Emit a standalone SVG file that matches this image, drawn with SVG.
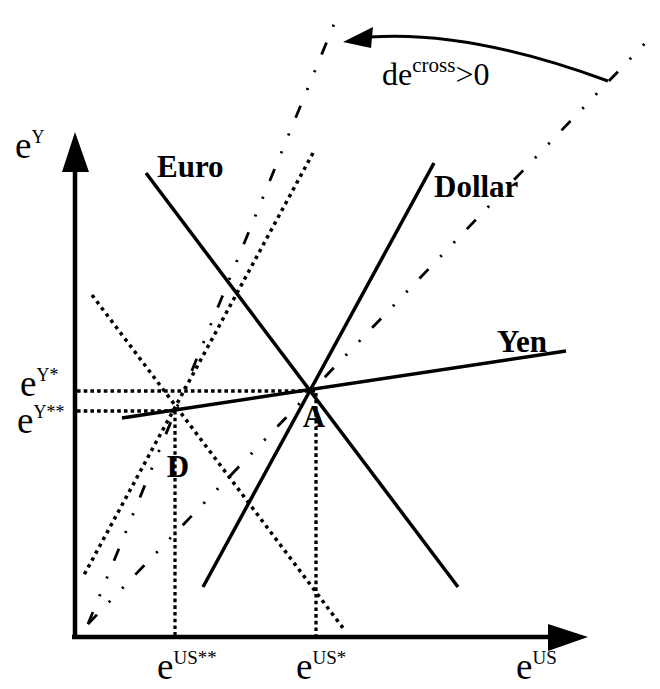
<svg xmlns="http://www.w3.org/2000/svg" width="660" height="689" viewBox="0 0 660 689">
<style>
.ax{stroke:#000;stroke-width:4.5;fill:none}
.sol{stroke:#000;stroke-width:3.5;fill:none;stroke-linecap:butt}
.dot{stroke:#000;stroke-width:3.5;fill:none;stroke-dasharray:3.5 4.3}
.dotg{stroke:#000;stroke-width:3.3;fill:none;stroke-dasharray:3.6 3.1}
.dd{stroke:#000;stroke-width:2.8;fill:none;stroke-dasharray:13 17 2.2 17 2.2 17}
.t{font-family:"Liberation Serif","Times New Roman",serif;fill:#000}
.b{font-family:"Liberation Serif","Times New Roman",serif;font-weight:bold;font-size:31px;fill:#000}
</style>
<rect width="660" height="689" fill="#fff"/>
<g id="connectors">
<line class="ax" x1="75" y1="639" x2="75" y2="170"/>
<polygon points="75,132 62,172 89,172" fill="#000"/>
<line class="ax" x1="72" y1="637" x2="550" y2="637"/>
<polygon points="588,637 548,624 548,651" fill="#000"/>
<line class="dd" x1="88" y1="624" x2="339" y2="12"/>
<line class="dd" x1="88" y1="624" x2="654" y2="34"/>
<line class="dot" x1="92" y1="295" x2="343" y2="628"/>
<line class="dot" x1="313" y1="153" x2="84" y2="575"/>
<line class="dotg" x1="77" y1="391" x2="316" y2="391"/>
<line class="dotg" x1="77" y1="411" x2="176" y2="411"/>
<line class="dotg" x1="175" y1="411" x2="175" y2="635"/>
<line class="dotg" x1="316" y1="393" x2="316" y2="635"/>
<line class="sol" x1="146" y1="173" x2="458" y2="587"/>
<line class="sol" x1="203" y1="587" x2="434" y2="163"/>
<line class="sol" x1="122" y1="418" x2="566" y2="351"/>
<path d="M608,81 Q470,30 370,37" stroke="#000" stroke-width="3" fill="none"/>
<polygon points="343,42 373,27 371,48" fill="#000"/>
</g>
<g id="labels">
<text class="b" x="157" y="177">Euro</text>
<text class="b" x="434" y="197">Dollar</text>
<text class="b" x="497" y="352">Yen</text>
<text class="b" x="314" y="427" text-anchor="middle">A</text>
<text class="b" x="178" y="477" text-anchor="middle">D</text>
<text class="t" x="382" y="85" font-size="32">de<tspan font-size="21" dy="-13">cross</tspan><tspan dy="13">&gt;0</tspan></text>
<text class="t" x="15" y="158" font-size="37">e<tspan font-size="18" dy="-15">Y</tspan></text>
<text class="t" x="20" y="396" font-size="37">e<tspan font-size="18" dy="-15">Y*</tspan></text>
<text class="t" x="17" y="433" font-size="37">e<tspan font-size="18" dy="-15">Y**</tspan></text>
<text class="t" x="157" y="679" font-size="37">e<tspan font-size="19" dy="-15">US**</tspan></text>
<text class="t" x="296" y="679" font-size="37">e<tspan font-size="19" dy="-15">US*</tspan></text>
<text class="t" x="516" y="679" font-size="37">e<tspan font-size="19" dy="-15">US</tspan></text>
</g>
</svg>
